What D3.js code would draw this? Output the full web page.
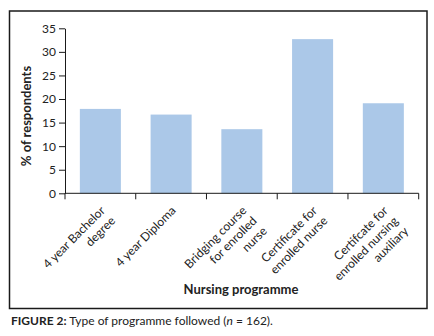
<html>
<head>
    <meta charset="utf-8">
    <title>Type of programme followed</title>
    <style>
        body { margin: 0; background: #fff; }
        text { font-family: Lato, "Open Sans", sans-serif; fill: #222; }
    </style>
</head>
<body>
    <script src="https://cdn.jsdelivr.net/npm/d3@7/dist/d3.min.js"></script>
    <script>
        var width = 434, height = 336;

        // data (n = 162)
        const categories = [
            "4 year Bachelor\ndegree",
            "4 year Diploma",
            "Bridging course\nfor enrolled\nnurse",
            "Certificate for\nenrolled nurse",
            "Certifcate for\nenrolled nursing\nauxiliary"
        ];
        const percents = [17.9, 16.7, 13.6, 32.7, 19.1];
        const yTicks = [0, 5, 10, 15, 20, 25, 30, 35];

        var svg = d3.select("body").append("svg")
            .attr("width", width)
            .attr("height", height);

        // outer frame
        svg.append("rect")
            .attr("x", 9.5).attr("y", 11)
            .attr("width", 417.5).attr("height", 297.5)
            .attr("fill", "none")
            .attr("stroke", "#1a1a1a")
            .attr("stroke-width", 1.5);

        var x = d3.scaleBand()
            .domain(categories)
            .range([65, 418.7])
            .paddingInner(0.42)
            .paddingOuter(0.21);

        var y = d3.scaleLinear()
            .domain([0, 35])
            .range([193.3, 28.3]);

        // bars
        svg.append("g").selectAll("rect")
            .data(percents)
            .enter()
            .append("rect")
            .attr("x", (d, i) => x(categories[i]))
            .attr("width", x.bandwidth())
            .attr("y", d => y(d))
            .attr("height", d => y(0) - y(d))
            .attr("fill", "#abc8e8");

        // y axis
        var yAxis = svg.append("g")
            .attr("transform", "translate(65,0)")
            .call(d3.axisLeft(y).tickValues(yTicks).tickSize(6).tickSizeOuter(0).tickPadding(3));
        yAxis.selectAll("path, line").attr("stroke", "#1a1a1a");
        yAxis.selectAll("text").attr("font-size", "12px").attr("font-family", "Lato").attr("fill", "#222");

        // x axis: ticks between categories, like the original
        var xAxis = svg.append("g").attr("transform", "translate(0," + y(0) + ")");
        xAxis.append("line")
            .attr("x1", x.range()[0]).attr("x2", x.range()[1])
            .attr("stroke", "#1a1a1a");
        var gap = x.step() * x.paddingInner() / 2;
        var bounds = categories.map(c => x(c) - gap).concat([x.range()[1]]);
        bounds[0] = x.range()[0];
        xAxis.selectAll(".tk")
            .data(bounds)
            .enter()
            .append("line")
            .attr("class", "tk")
            .attr("x1", d => d).attr("x2", d => d)
            .attr("y1", 0).attr("y2", 6)
            .attr("stroke", "#1a1a1a");

        // rotated category labels
        var labels = svg.selectAll(".lab")
            .data(categories)
            .enter()
            .append("g")
            .attr("class", "lab")
            .attr("transform", d => "translate(" + (x(d) + x.bandwidth() / 2 - 1) + ",205) rotate(-45)");
        labels.each(function (d) {
            var g = d3.select(this);
            d.split("\n").forEach(function (line, j) {
                g.append("text")
                    .attr("x", 0)
                    .attr("y", 9 + j * 14.5)
                    .attr("text-anchor", "end")
                    .attr("font-size", "12px")
                    .text(line);
            });
        });

        // axis titles
        svg.append("text")
            .attr("transform", "translate(31,116) rotate(-90)")
            .attr("text-anchor", "middle")
            .attr("font-size", "13px")
            .attr("font-weight", "bold")
            .text("% of respondents");

        svg.append("text")
            .attr("x", 241)
            .attr("y", 294)
            .attr("text-anchor", "middle")
            .attr("font-size", "13px")
            .attr("font-weight", "bold")
            .text("Nursing programme");

        // caption
        var cap = svg.append("text")
            .attr("x", 11)
            .attr("y", 325)
            .attr("font-size", "12px")
            .attr("fill", "#333");
        cap.append("tspan").attr("font-weight", "bold").text("FIGURE 2:");
        cap.append("tspan").text(" Type of programme followed (");
        cap.append("tspan").attr("font-style", "italic").text("n");
        cap.append("tspan").text(" = 162).");
    </script>
</body>
</html>
